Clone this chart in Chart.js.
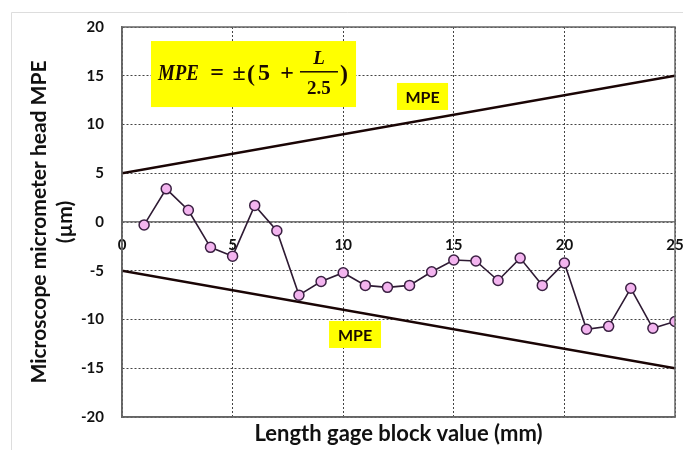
<!DOCTYPE html>
<html>
<head>
<meta charset="utf-8">
<title>Micrometer head MPE</title>
<script src="https://cdn.jsdelivr.net/npm/chart.js@4.4.1/dist/chart.umd.min.js"></script>
<style>
    html, body { margin: 0; padding: 0; background: #ffffff; }
    #wrap { width: 683px; height: 450px; position: relative; }
</style>
</head>
<body>
<div id="wrap"><canvas id="mpeChart" width="683" height="450"></canvas></div>
<script>
// Daten
const blockValues = [1, 2, 3, 4, 5, 6, 7, 8, 9, 10, 11, 12, 13, 14, 15, 16, 17, 18, 19, 20, 21, 22, 23, 24, 25];
const deviations = [-0.3, 3.4, 1.2, -2.6, -3.5, 1.7, -0.9, -7.5, -6.1, -5.2, -6.5, -6.7, -6.5, -5.1, -3.9, -4.0, -6.0, -3.7, -6.5, -4.2, -11.0, -10.7, -6.8, -10.9, -10.2];

// MPE Grenzen: +-(5 + L/2.5)
const mpeX = [0, 25];
const mpeUpper = [5, 15];
const mpeLower = [-5, -15];

const xTicks = [0, 5, 10, 15, 20, 25];
const yTicks = [-20, -15, -10, -5, 0, 5, 10, 15, 20];

const labelFont = { family: 'Lato', size: 15, weight: 'bold' };
const gridDots = { color: '#444', lineWidth: 1 };

// kein automatischer Rand für die Tick-Beschriftung
const noPad = (s) => { s.paddingLeft = 0; s.paddingRight = 0; };

// Rahmen um die Zeichenfläche + heller Seitenrand
const framePlugin = {
    id: 'frame',
    beforeDraw(chart) {
        const ctx = chart.ctx;
        ctx.save();
        ctx.fillStyle = '#ffffff';
        ctx.fillRect(0, 0, chart.width, chart.height);
        ctx.strokeStyle = '#dddddd';
        ctx.lineWidth = 1;
        ctx.beginPath();
        ctx.moveTo(11.5, chart.height);
        ctx.lineTo(11.5, 12.5);
        ctx.lineTo(chart.width, 12.5);
        ctx.stroke();
        ctx.restore();
    },
    afterDraw(chart) {
        const a = chart.chartArea;
        const ctx = chart.ctx;
        ctx.save();
        ctx.strokeStyle = '#666666';
        ctx.lineWidth = 1.5;
        ctx.strokeRect(a.left, a.top, a.right - a.left, a.bottom - a.top);
        ctx.restore();
    }
};

// Gelbe Beschriftungen (Formel + MPE)
function yellowBox(chart, x1, y1, x2, y2) {
    const sx = chart.scales.x, sy = chart.scales.y;
    const l = sx.getPixelForValue(x1), r = sx.getPixelForValue(x2);
    const t = sy.getPixelForValue(y1), b = sy.getPixelForValue(y2);
    chart.ctx.fillStyle = '#ffff00';
    chart.ctx.fillRect(l, t, r - l, b - t);
    return { l, t, r, b };
}

const notesPlugin = {
    id: 'notes',
    afterDraw(chart) {
        const ctx = chart.ctx;
        ctx.save();

        // MPE labels
        ctx.textAlign = 'center';
        ctx.textBaseline = 'middle';
        [[12.43, 14.26, 14.74, 11.49], [9.36, -10.15, 11.71, -12.92]].forEach(p => {
            const box = yellowBox(chart, p[0], p[1], p[2], p[3]);
            ctx.fillStyle = '#1a0a00';
            ctx.font = 'bold 16px Lato';
            ctx.fillText('MPE', (box.l + box.r) / 2, (box.t + box.b) / 2 + 1);
        });

        // Formel
        const f = yellowBox(chart, 1.31, 18.56, 10.58, 11.79);
        const base = f.t + 39;
        ctx.fillStyle = '#1a0a00';
        ctx.textBaseline = 'alphabetic';
        ctx.textAlign = 'left';
        ctx.font = 'italic bold 24px "Liberation Serif"';
        ctx.fillText('MPE', f.l + 7, base, 41);
        ctx.textAlign = 'center';
        ctx.font = 'bold 24px "Liberation Serif"';
        ctx.fillText('=', f.l + 66, base);
        ctx.fillText('±', f.l + 88, base);
        ctx.fillText('(', f.l + 100, base + 1);
        ctx.fillText('5', f.l + 113, base);
        ctx.fillText('+', f.l + 136, base);
        ctx.fillText(')', f.l + 193, base + 1);
        // Bruch L / 2.5
        ctx.font = 'italic bold 19px "Liberation Serif"';
        ctx.fillText('L', f.l + 168, f.t + 23);
        ctx.font = 'bold 19px "Liberation Serif"';
        ctx.fillText('2.5', f.l + 168, f.t + 53);
        ctx.fillRect(f.l + 149, f.t + 30, 38, 1.5);

        ctx.restore();
    }
};

const ctx = document.getElementById('mpeChart').getContext('2d');

new Chart(ctx, {
    type: 'line',
    data: {
        datasets: [
            {
                label: 'MPE +',
                data: mpeX.map((x, i) => ({ x: x, y: mpeUpper[i] })),
                borderColor: '#1a0505',
                borderWidth: 2.5,
                pointRadius: 0,
                order: 2
            },
            {
                label: 'MPE -',
                data: mpeX.map((x, i) => ({ x: x, y: mpeLower[i] })),
                borderColor: '#1a0505',
                borderWidth: 2.5,
                pointRadius: 0,
                order: 2
            },
            {
                label: 'Deviation',
                data: blockValues.map((x, i) => ({ x: x, y: deviations[i] })),
                borderColor: '#2e1a33',
                borderWidth: 1.6,
                pointRadius: 5,
                pointBackgroundColor: '#f3b4ef',
                pointBorderColor: '#3a2042',
                pointBorderWidth: 1.5,
                order: 1
            }
        ]
    },
    options: {
        responsive: false,
        animation: false,
        devicePixelRatio: 1,
        layout: { autoPadding: false, padding: { left: 0, right: 8, top: 27, bottom: 0 } },
        plugins: {
            legend: { display: false },
            tooltip: { enabled: false }
        },
        scales: {
            x: {
                type: 'linear',
                position: 'bottom',
                min: 0,
                max: 25,
                afterBuildTicks: (s) => { s.ticks = xTicks.map(v => ({ value: v })); },
                ticks: { display: false },
                grid: { color: gridDots.color, lineWidth: gridDots.lineWidth, drawTicks: false },
                border: { color: '#666', width: 1.5, dash: [2, 2] },
                title: {
                    display: true,
                    text: 'Length gage block value (mm)',
                    font: { family: 'Lato', size: 22, weight: 'bold' },
                    color: '#111',
                    padding: { top: 0, bottom: 3 }
                },
                afterFit: (s) => { s.height = 33; noPad(s); }
            },
            // Tick-Beschriftung auf der Nulllinie
            xt: {
                type: 'linear',
                position: { y: 0 },
                min: 0,
                max: 25,
                afterBuildTicks: (s) => { s.ticks = xTicks.map(v => ({ value: v })); },
                ticks: { font: labelFont, color: '#111', padding: 14, maxRotation: 0 },
                grid: { display: false, drawTicks: false },
                border: { color: '#777', width: 1.5 },
                afterFit: noPad
            },
            y: {
                type: 'linear',
                min: -20,
                max: 20,
                afterBuildTicks: (s) => { s.ticks = yTicks.map(v => ({ value: v })); },
                ticks: { font: labelFont, color: '#111', padding: 18 },
                grid: { color: gridDots.color, lineWidth: gridDots.lineWidth, drawTicks: false },
                border: { color: '#666', width: 1.5, dash: [2, 2] },
                title: {
                    display: true,
                    text: ['Microscope micrometer head MPE', '(µm)'],
                    font: { family: 'Lato', size: 21, weight: 'bold' },
                    color: '#111',
                    padding: { top: 27, bottom: 0 }
                },
                afterFit: (s) => { s.width = 122; s.paddingTop = 0; s.paddingBottom = 0; }
            }
        }
    },
    plugins: [framePlugin, notesPlugin]
});
</script>
</body>
</html>
